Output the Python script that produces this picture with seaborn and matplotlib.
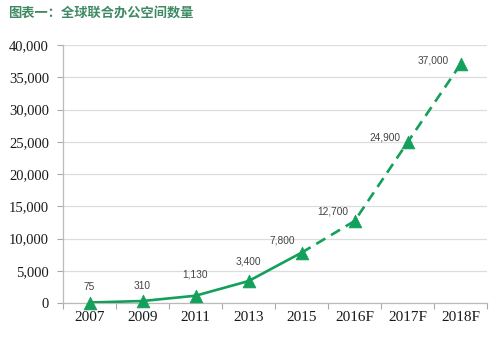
import numpy as np
import matplotlib
matplotlib.use("Agg")
import matplotlib.pyplot as plt
import seaborn as sns
import pandas as pd

categories = ["2007", "2009", "2011", "2013", "2015", "2016F", "2017F", "2018F"]
values = [75, 310, 1130, 3400, 7800, 12700, 24900, 37000]
value_labels = ["75", "310", "1,130", "3,400", "7,800", "12,700", "24,900", "37,000"]
y_ticks = [0, 5000, 10000, 15000, 20000, 25000, 30000, 35000, 40000]
y_tick_labels = ["0", "5,000", "10,000", "15,000", "20,000", "25,000", "30,000", "35,000", "40,000"]
actual_count = 5  # 2007-2015 are actual, the rest are forecasts

sns.set_theme(style="white")
plt.rcParams["font.family"] = ["Noto Sans CJK SC", "DejaVu Sans"]

green = "#12a05a"
pos = np.arange(len(categories))
df = pd.DataFrame({"pos": pos, "value": values})
actual = df.iloc[:actual_count]
forecast = df.iloc[actual_count - 1:]

fig = plt.figure(figsize=(5.0, 3.41), dpi=100)
ax = fig.add_axes([0.126, 0.1114, 0.848, 0.7566])

sns.lineplot(data=actual, x="pos", y="value", ax=ax, color=green, linewidth=1.9, zorder=3)
sns.lineplot(data=forecast, x="pos", y="value", ax=ax, color=green, linewidth=1.9,
             linestyle=(0, (4, 2.5)), zorder=3)
sns.scatterplot(data=df, x="pos", y="value", ax=ax, color=green, marker="^", s=85,
                edgecolor=green, linewidth=0.5, zorder=4, clip_on=False)

# value labels, offsets in pixels from each point
offsets = [(0, 16), (0, 15), (0, 21), (0, 20), (-19, 12), (-22, 10), (-23, 5), (-27, 4)]
for x, v, lab, (dx, dy) in zip(pos, values, value_labels, offsets):
    ax.annotate(lab, (x, v), xytext=(dx, dy), textcoords="offset pixels",
                ha="center", va="center", fontsize=7.3, color="#444444",
                family=["Liberation Sans"])

ax.set_xlim(-0.5, len(categories) - 0.5)
ax.set_ylim(0, 40000)

ax.set_xticks(np.arange(-0.5, len(categories), 1.0))
ax.set_xticklabels([])
ax.set_xticks(pos, minor=True)
ax.set_xticklabels(categories, minor=True, family=["Liberation Serif"],
                   fontsize=11, color="#1a1a1a")
ax.tick_params(axis="x", which="major", length=4, width=0.8, color="#aaaaaa", direction="out", bottom=True)
ax.tick_params(axis="x", which="minor", length=0, pad=6)

ax.set_yticks(y_ticks)
ax.set_yticklabels(y_tick_labels, family=["Liberation Serif"], fontsize=10.5, color="#1a1a1a")
ax.tick_params(axis="y", length=4, width=0.8, color="#aaaaaa", direction="out", left=True, pad=6)

ax.grid(axis="y", color="#dddddd", linewidth=0.9)
ax.set_axisbelow(True)
for s in ["top", "right"]:
    ax.spines[s].set_visible(False)
ax.spines["left"].set_color("#bbbbbb")
ax.spines["bottom"].set_color("#bbbbbb")
ax.spines["left"].set_linewidth(0.9)
ax.spines["bottom"].set_linewidth(0.9)
ax.set_xlabel("")
ax.set_ylabel("")

fig.text(0.016, 0.962, "图表一：全球联合办公空间数量", fontsize=9.5, fontweight="bold",
         color="#3f8a64", ha="left", va="center")

fig.savefig("out.png", dpi=100)
